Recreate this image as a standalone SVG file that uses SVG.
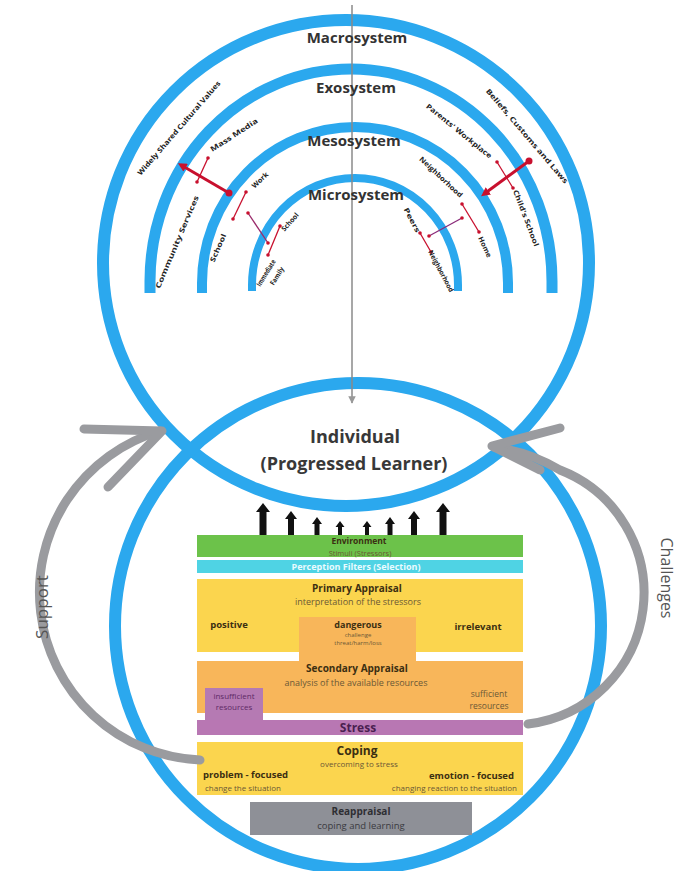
<svg xmlns="http://www.w3.org/2000/svg" width="678" height="871" viewBox="0 0 678 871">
<defs>
<style>
text{font-family:"Open Sans","Liberation Sans",sans-serif}
.ring{fill:none;stroke:#2BA8EE}
.sys{font-size:15px;font-weight:700;fill:#333;text-anchor:middle}
.lab{font-size:7px;font-weight:700;fill:#222;text-anchor:middle}
.rl{stroke:#C8102E;stroke-width:1.3;fill:none}
.dot{fill:#C8102E}
.h{font-size:9.5px;font-weight:700;fill:#3b2f12}
.s{font-size:8.5px;fill:#6b5836}
.m{text-anchor:middle}
.st{text-anchor:start}
.en{text-anchor:end}
.ga{fill:none;stroke:#9A9B9F;stroke-width:9;stroke-linecap:round;stroke-linejoin:round}
.side{font-size:17px;fill:#555;text-anchor:middle}
</style>
<marker id="rh" viewBox="0 0 10 10" refX="6" refY="5" markerWidth="3" markerHeight="3" orient="auto"><path d="M0,0 L10,5 L0,10 z" fill="#C8102E"/></marker>
<marker id="gh" viewBox="0 0 10 10" refX="9" refY="5" markerWidth="5" markerHeight="5" orient="auto"><path d="M0,0 L10,5 L0,10 z" fill="#999"/></marker>
</defs>
<rect width="678" height="871" fill="#fff"/>

<g id="circles">
<circle class="ring" cx="346" cy="263" r="243" stroke-width="12"/>
<circle class="ring" cx="358" cy="626" r="243" stroke-width="12"/>
</g>

<g id="arcs">
<path class="ring" stroke-width="11" d="M150 293 L150 281 A201 212 0 0 1 552 281 L552 293"/>
<path class="ring" stroke-width="10" d="M202 293 L202 283 A153 156 0 0 1 508 283 L508 293"/>
<path class="ring" stroke-width="8" d="M252 291 L252 285 A103 107 0 0 1 458 285 L458 291"/>
</g>

<g id="connectors">
<line x1="352" y1="5" x2="352" y2="403" stroke="#8a8a8a" stroke-width="1.5" marker-end="url(#gh)"/>
<line x1="229" y1="193" x2="181" y2="165" stroke="#C8102E" stroke-width="3" marker-end="url(#rh)"/>
<circle class="dot" cx="229" cy="193" r="3.5"/>
<line x1="529" y1="161" x2="484" y2="194" stroke="#C8102E" stroke-width="3" marker-end="url(#rh)"/>
<circle class="dot" cx="529" cy="161" r="3.5"/>
<g>
<line class="rl" x1="208" y1="158" x2="197" y2="182"/><circle class="dot" cx="208" cy="158" r="1.8"/><circle class="dot" cx="197" cy="182" r="1.8"/>
<line class="rl" x1="246" y1="192" x2="233" y2="219"/><circle class="dot" cx="246" cy="192" r="1.8"/><circle class="dot" cx="233" cy="219" r="1.8"/>
<line class="rl" x1="248" y1="213" x2="268" y2="243" style="stroke:#9A2A6A"/><circle class="dot" cx="248" cy="213" r="1.8"/><circle class="dot" cx="268" cy="243" r="1.8"/>
<line class="rl" x1="280" y1="226" x2="268" y2="255"/><circle class="dot" cx="280" cy="226" r="1.8"/><circle class="dot" cx="268" cy="255" r="1.8"/>
<line class="rl" x1="497" y1="162" x2="513" y2="188"/><circle class="dot" cx="497" cy="162" r="1.8"/><circle class="dot" cx="513" cy="188" r="1.8"/>
<line class="rl" x1="462" y1="204" x2="479" y2="232"/><circle class="dot" cx="462" cy="204" r="1.8"/><circle class="dot" cx="479" cy="232" r="1.8"/>
<line class="rl" x1="429" y1="236" x2="462" y2="218" style="stroke:#8A2A7A"/><circle class="dot" cx="429" cy="236" r="1.8"/><circle class="dot" cx="462" cy="218" r="1.8"/>
<line class="rl" x1="420" y1="233" x2="431" y2="252"/><circle class="dot" cx="420" cy="233" r="1.8"/><circle class="dot" cx="431" cy="252" r="1.8"/>
</g>
</g>

<g id="system-labels">
<text class="sys" x="357" y="43">Macrosystem</text>
<text class="sys" x="356" y="93">Exosystem</text>
<text class="sys" x="354" y="146">Mesosystem</text>
<text class="sys" x="356" y="200">Microsystem</text>
</g>

<g id="arc-labels">
<text class="lab" transform="translate(179,128) rotate(-49)" dy="2.5" textLength="122" lengthAdjust="spacingAndGlyphs">Widely Shared Cultural Values</text>
<text class="lab" transform="translate(234,135) rotate(-33)" dy="2.5" textLength="55" lengthAdjust="spacingAndGlyphs">Mass Media</text>
<text class="lab" transform="translate(177,242) rotate(-67)" dy="2.5" textLength="100" lengthAdjust="spacingAndGlyphs">Community Services</text>
<text class="lab" transform="translate(260,180) rotate(-43)" dy="2.5" textLength="20" lengthAdjust="spacingAndGlyphs">Work</text>
<text class="lab" transform="translate(218,248) rotate(-66)" dy="2.5" textLength="30" lengthAdjust="spacingAndGlyphs">School</text>
<text class="lab" transform="translate(290,222) rotate(-48)" dy="2.5" textLength="22" lengthAdjust="spacingAndGlyphs">School</text>
<text class="lab" transform="translate(266,273) rotate(-58)" dy="2.5" textLength="30" lengthAdjust="spacingAndGlyphs">Immediate</text>
<text class="lab" transform="translate(277,276) rotate(-58)" dy="2.5" textLength="20" lengthAdjust="spacingAndGlyphs">Family</text>
<text class="lab" transform="translate(527,136) rotate(49.5)" dy="2.5" textLength="122" lengthAdjust="spacingAndGlyphs">Beliefs, Customs and Laws</text>
<text class="lab" transform="translate(459,131) rotate(39)" dy="2.5" textLength="82" lengthAdjust="spacingAndGlyphs">Parents' Workplace</text>
<text class="lab" transform="translate(526,218) rotate(69)" dy="2.5" textLength="60" lengthAdjust="spacingAndGlyphs">Child's School</text>
<text class="lab" transform="translate(441,177) rotate(43)" dy="2.5" textLength="56" lengthAdjust="spacingAndGlyphs">Neighborhood</text>
<text class="lab" transform="translate(485,247) rotate(65)" dy="2.5" textLength="22" lengthAdjust="spacingAndGlyphs">Home</text>
<text class="lab" transform="translate(412,220) rotate(62)" dy="2.5" textLength="27" lengthAdjust="spacingAndGlyphs">Peers</text>
<text class="lab" transform="translate(441,271) rotate(62)" dy="2.5" textLength="46" lengthAdjust="spacingAndGlyphs">Neighborhood</text>
</g>

<g id="individual">
<text x="355" y="443" style="font-size:18px;font-weight:700;fill:#383838;text-anchor:middle">Individual</text>
<text x="354" y="470" style="font-size:18px;font-weight:700;fill:#383838;text-anchor:middle">(Progressed Learner)</text>
</g>

<g id="stimuli-arrows" fill="#111">
<polygon points="263,503 270,512 266.5,512 266.5,535 259.5,535 259.5,512 256,512"/>
<polygon points="291,511 297,519 294,519 294,535 288,535 288,519 285,519"/>
<polygon points="317,517 322,524 319.5,524 319.5,535 314.5,535 314.5,524 312,524"/>
<polygon points="340,521 344.5,527 342,527 342,535 338,535 338,527 335.5,527"/>
<polygon points="367,521 371.5,527 369,527 369,535 365,535 365,527 362.5,527"/>
<polygon points="390,517 395,524 392.5,524 392.5,535 387.5,535 387.5,524 385,524"/>
<polygon points="414,511 420,519 417,519 417,535 411,535 411,519 408,519"/>
<polygon points="443,503 450,512 446.5,512 446.5,535 439.5,535 439.5,512 436,512"/>
</g>

<g id="environment">
<rect x="197" y="535" width="326" height="22" fill="#6CC24A"/>
<text class="h m" x="359" y="543.5" style="font-size:8.5px">Environment</text>
<text class="s m" x="360" y="555.5" style="font-size:7.5px">Stimuli (Stressors)</text>
</g>
<g id="perception">
<rect x="197" y="560" width="326" height="13" fill="#4FD3E4"/>
<text x="356" y="570" style="font-size:9px;font-weight:700;fill:#E9FBFF;text-anchor:middle">Perception Filters (Selection)</text>
</g>
<g id="primary">
<rect x="197" y="579" width="326" height="73" fill="#FBD54E"/>
<text class="h m" x="357" y="592" style="font-size:10px">Primary Appraisal</text>
<text class="s m" x="358" y="605" style="font-size:9px">interpretation of the stressors</text>
<text class="h m" x="229" y="628">positive</text>
<text class="h m" x="478" y="630">irrelevant</text>
</g>
<g id="secondary">
<rect x="197" y="661" width="326" height="52" fill="#F8B65A"/>
<text class="h m" x="357" y="672" style="font-size:10px">Secondary Appraisal</text>
<text class="s m" x="356" y="686" style="font-size:9px">analysis of the available resources</text>
<text class="s m" x="489" y="697">sufficient</text>
<text class="s m" x="489" y="709">resources</text>
</g>
<g id="dangerous">
<rect x="299" y="617" width="117" height="46" fill="#F8B65A"/>
<text class="h m" x="358" y="628" style="font-size:9px">dangerous</text>
<text class="s m" x="358" y="637" style="font-size:6px">challenge</text>
<text class="s m" x="358" y="645" style="font-size:6px">threat/harm/loss</text>
</g>
<g id="insufficient">
<rect x="205" y="688" width="58" height="44" fill="#B57AB3"/>
<text x="234" y="699" style="font-size:8px;fill:#5E2A66;text-anchor:middle">insufficient</text>
<text x="234" y="710" style="font-size:8px;fill:#5E2A66;text-anchor:middle">resources</text>
</g>
<g id="stress">
<rect x="197" y="720" width="326" height="15" fill="#B877B3"/>
<text x="358" y="732" style="font-size:12px;font-weight:700;fill:#4A1F50;text-anchor:middle">Stress</text>
</g>
<g id="coping">
<rect x="197" y="742" width="326" height="53" fill="#FBD54E"/>
<text class="h m" x="357" y="755" style="font-size:12px">Coping</text>
<text class="s m" x="359" y="767" style="font-size:8px">overcoming to stress</text>
<text class="h st" x="203" y="778">problem - focused</text>
<text class="s st" x="205" y="790.5" style="font-size:8px">change the situation</text>
<text class="h en" x="514" y="778.5">emotion - focused</text>
<text class="s en" x="517" y="790.5" style="font-size:8px">changing reaction to the situation</text>
</g>
<g id="reappraisal">
<rect x="250" y="802" width="222" height="33" fill="#8E9097"/>
<text x="361" y="815" style="font-size:10px;font-weight:700;fill:#2E2E33;text-anchor:middle">Reappraisal</text>
<text x="361" y="829" style="font-size:9.5px;fill:#3A3A40;text-anchor:middle">coping and learning</text>
</g>

<g id="support">
<path class="ga" d="M200 760 A168 168 0 0 1 160 431"/>
<path class="ga" d="M84 429 L162 431 L108 487"/>
<text class="side" transform="translate(48,607) rotate(-90)">Support</text>
</g>
<g id="challenges">
<path class="ga" d="M528 724 A132 132 0 0 0 560 470 Q530 452 494 447"/>
<path class="ga" d="M560 428 L492 446 L540 470"/>
<text class="side" transform="translate(661,578) rotate(90)" style="font-size:16px">Challenges</text>
</g>
</svg>
